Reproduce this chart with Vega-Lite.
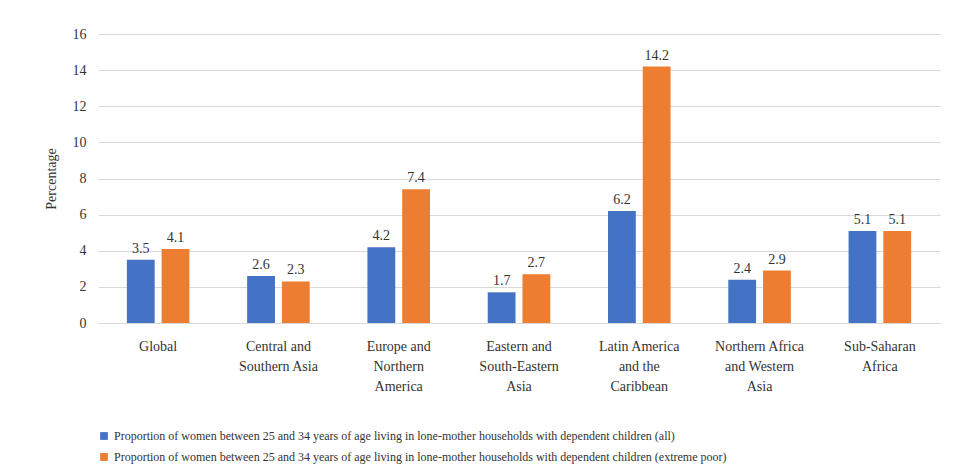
{
"$schema":"https://vega.github.io/schema/vega-lite/v6.json",
"width":842,"height":289,
"autosize":"none",
"padding":{"left":98,"top":34,"right":24,"bottom":149},
"background":"white",
"config":{"font":"Liberation Serif","view":{"stroke":null}},
"data":{"values":[
{"r":"Global","s":"Proportion of women between 25 and 34 years of age living in lone-mother households with dependent children (all)","v":3.5},
{"r":"Global","s":"Proportion of women between 25 and 34 years of age living in lone-mother households with dependent children (extreme poor)","v":4.1},
{"r":"Central and|Southern Asia","s":"Proportion of women between 25 and 34 years of age living in lone-mother households with dependent children (all)","v":2.6},
{"r":"Central and|Southern Asia","s":"Proportion of women between 25 and 34 years of age living in lone-mother households with dependent children (extreme poor)","v":2.3},
{"r":"Europe and|Northern|America","s":"Proportion of women between 25 and 34 years of age living in lone-mother households with dependent children (all)","v":4.2},
{"r":"Europe and|Northern|America","s":"Proportion of women between 25 and 34 years of age living in lone-mother households with dependent children (extreme poor)","v":7.4},
{"r":"Eastern and|South-Eastern|Asia","s":"Proportion of women between 25 and 34 years of age living in lone-mother households with dependent children (all)","v":1.7},
{"r":"Eastern and|South-Eastern|Asia","s":"Proportion of women between 25 and 34 years of age living in lone-mother households with dependent children (extreme poor)","v":2.7},
{"r":"Latin America|and the|Caribbean","s":"Proportion of women between 25 and 34 years of age living in lone-mother households with dependent children (all)","v":6.2},
{"r":"Latin America|and the|Caribbean","s":"Proportion of women between 25 and 34 years of age living in lone-mother households with dependent children (extreme poor)","v":14.2},
{"r":"Northern Africa|and Western|Asia","s":"Proportion of women between 25 and 34 years of age living in lone-mother households with dependent children (all)","v":2.4},
{"r":"Northern Africa|and Western|Asia","s":"Proportion of women between 25 and 34 years of age living in lone-mother households with dependent children (extreme poor)","v":2.9},
{"r":"Sub-Saharan|Africa","s":"Proportion of women between 25 and 34 years of age living in lone-mother households with dependent children (all)","v":5.1},
{"r":"Sub-Saharan|Africa","s":"Proportion of women between 25 and 34 years of age living in lone-mother households with dependent children (extreme poor)","v":5.1}
]},
"encoding":{
"x":{"field":"r","type":"nominal","sort":null,"title":null,"scale":{"paddingInner":0.48,"paddingOuter":0.24},
"axis":{"labelAngle":0,"labelExpr":"split(datum.label,'|')","labelFontSize":14,"labelColor":"#333","labelPadding":16,"ticks":false,"domainColor":"#d9d9d9","labelLineHeight":20}},
"xOffset":{"field":"s","type":"nominal","scale":{"paddingInner":0.2}},
"y":{"field":"v","type":"quantitative","title":"Percentage","scale":{"domain":[0,16]},
"axis":{"values":[0,2,4,6,8,10,12,14,16],"domain":false,"ticks":false,"gridColor":"#d9d9d9","labelFontSize":14,"labelColor":"#333","titleFontSize":14,"titleFontWeight":"normal","titleColor":"#333","labelPadding":12,"titlePadding":14}}
},
"layer":[
{"mark":{"type":"bar"},"encoding":{"color":{"field":"s","type":"nominal","scale":{"range":["#4472C4","#ED7D31"]},
"legend":{"title":null,"orient":"none","legendX":0,"legendY":396,"labelFontSize":12,"labelColor":"#333","symbolType":"square","symbolSize":60,"labelLimit":900,"rowPadding":9}}}},
{"mark":{"type":"text","dy":-11,"fontSize":14,"color":"#333"},"encoding":{"text":{"field":"v","type":"quantitative","format":".1f"}}}
]
}
